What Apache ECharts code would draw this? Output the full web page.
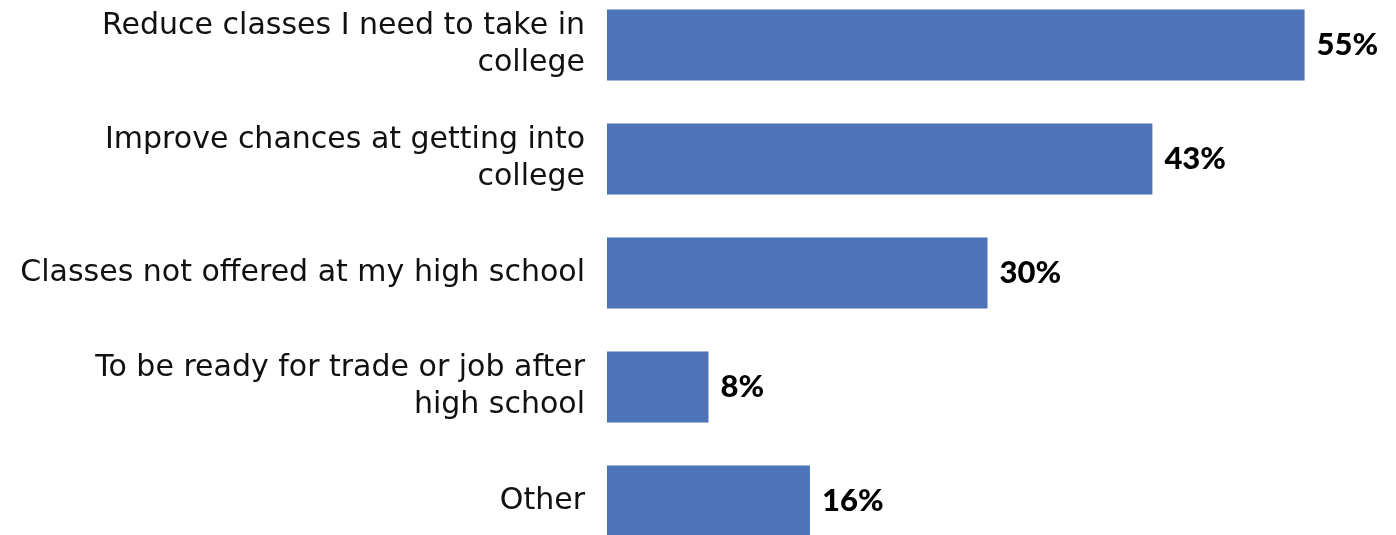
<!DOCTYPE html>
<html>
<head>
<meta charset="utf-8">
<script src="https://cdn.jsdelivr.net/npm/echarts@6/dist/echarts.min.js"></script>
<style>
  html, body { margin: 0; padding: 0; background: #fff; overflow: hidden; width: 1396px; height: 535px; position: relative; }
  #chart { position: absolute; left: 0; top: -12px; width: 1396px; height: 570px; }
</style>
</head>
<body>
<div id="chart"></div>
<script>
// Reasons for taking the classes (share of respondents, %)
const categories = [
  'Reduce classes I need to take in\ncollege',
  'Improve chances at getting into\ncollege',
  'Classes not offered at my high school',
  'To be ready for trade or job after\nhigh school',
  'Other'
];
const values = [55, 43, 30, 8, 16];

const chart = echarts.init(document.getElementById('chart'));
chart.setOption({
  animation: false,
  grid: { left: 607, right: 28, top: 0, bottom: 0, containLabel: false },
  xAxis: {
    type: 'value', min: 0, max: 60,
    show: false
  },
  yAxis: {
    type: 'category',
    data: categories,
    inverse: true,
    axisLine: { show: false },
    axisTick: { show: false },
    axisLabel: {
      margin: 22,
      fontFamily: 'DejaVu Sans',
      fontSize: 30,
      lineHeight: 37,
      padding: [5, 0, 0, 0],
      color: '#111',
      align: 'right'
    }
  },
  series: [{
    type: 'bar',
    data: values,
    barWidth: 71,
    itemStyle: { color: '#4d73b8' },
    label: {
      show: true,
      position: 'right',
      distance: 12,
      formatter: '{c}%',
      fontFamily: 'Lato',
      fontWeight: 900,
      fontSize: 31,
      color: '#000'
    }
  }]
});
</script>
</body>
</html>
